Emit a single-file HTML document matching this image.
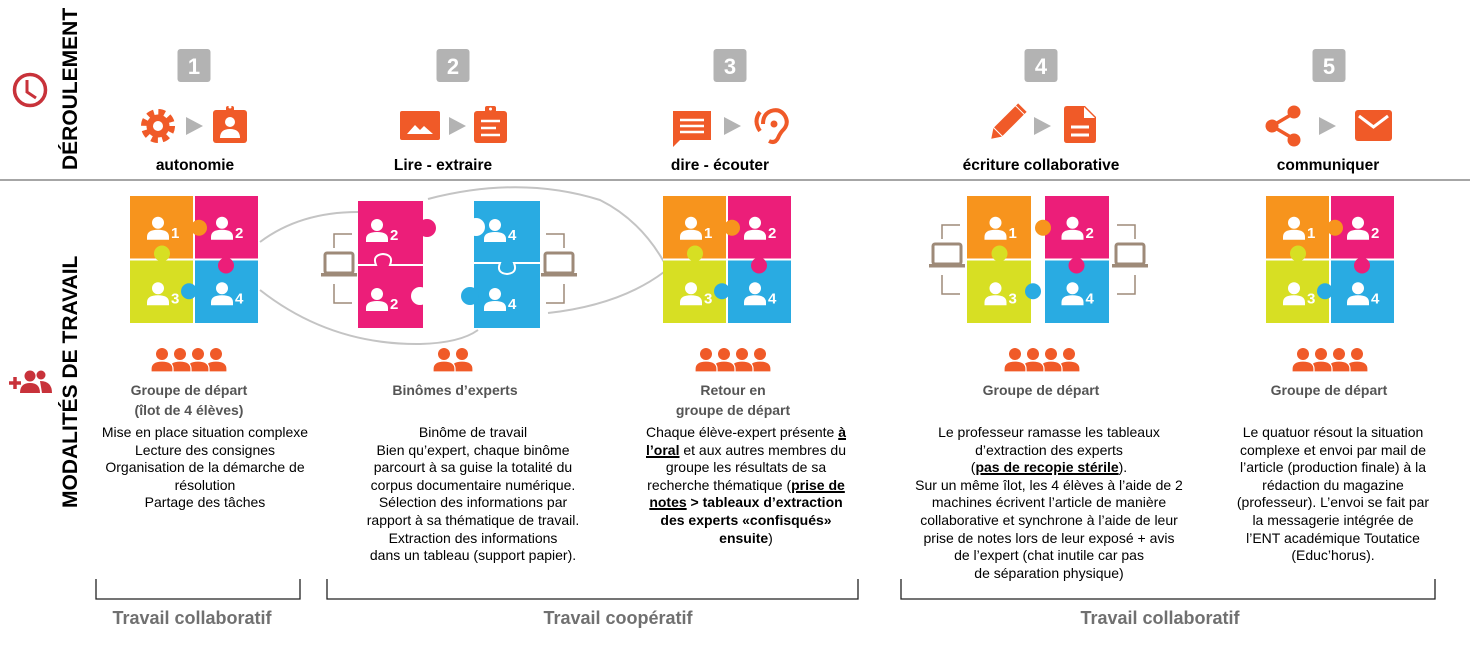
<!DOCTYPE html>
<html><head><meta charset="utf-8">
<style>
html,body{margin:0;padding:0;background:#fff;}
body{width:1470px;height:647px;position:relative;overflow:hidden;font-family:"Liberation Sans",Arial,sans-serif;}
svg{position:absolute;left:0;top:0;}
.t{position:absolute;text-align:center;white-space:nowrap;}
.lab{font-weight:bold;font-size:15.5px;color:#000;top:157px;width:240px;}
.sub{font-weight:bold;font-size:14px;color:#555;line-height:20px;width:240px;}
.body{font-size:14px;line-height:17.6px;color:#000;width:300px;}
.body b u, .body u{text-decoration-thickness:1.5px;}
.foot{font-weight:bold;font-size:18px;color:#707070;top:608px;width:300px;}
.vert{position:absolute;font-weight:bold;font-size:21px;color:#000;transform:rotate(-90deg);transform-origin:center;white-space:nowrap;text-align:center;}
</style></head><body>
<svg id="g" width="1470" height="647" viewBox="0 0 1470 647"></svg>

<div class="vert" style="left:-9px;top:77px;width:160px;height:26px;line-height:26px;">DÉROULEMENT</div>
<div class="vert" style="left:-54px;top:370px;width:250px;height:26px;line-height:26px;">MODALITÉS DE TRAVAIL</div>

<div class="t lab" style="left:75px;">autonomie</div>
<div class="t lab" style="left:323px;">Lire - extraire</div>
<div class="t lab" style="left:600px;">dire - écouter</div>
<div class="t lab" style="left:921px;">écriture collaborative</div>
<div class="t lab" style="left:1208px;">communiquer</div>

<div class="t sub" style="left:69px;top:380px;">Groupe de départ<br>(îlot de 4 élèves)</div>
<div class="t sub" style="left:335px;top:380px;">Binômes d’experts</div>
<div class="t sub" style="left:613px;top:380px;">Retour en<br>groupe de départ</div>
<div class="t sub" style="left:921px;top:380px;">Groupe de départ</div>
<div class="t sub" style="left:1209px;top:380px;">Groupe de départ</div>

<div class="t body" style="left:55px;top:424px;">Mise en place situation complexe<br>Lecture des consignes<br>Organisation de la démarche de<br>résolution<br>Partage des tâches</div>
<div class="t body" style="left:323px;top:424px;">Binôme de travail<br>Bien qu’expert, chaque binôme<br>parcourt à sa guise la totalité du<br>corpus documentaire numérique.<br>Sélection des informations par<br>rapport à sa thématique de travail.<br>Extraction des informations<br>dans un tableau (support papier).</div>
<div class="t body" style="left:596px;top:424px;">Chaque élève-expert présente <b><u>à</u></b><br><b><u>l’oral</u></b> et aux autres membres du<br>groupe les résultats de sa<br>recherche thématique (<b><u>prise de</u></b><br><b><u>notes</u> &gt; tableaux d’extraction</b><br><b>des experts «confisqués»</b><br><b>ensuite</b>)</div>
<div class="t body" style="left:899px;top:424px;">Le professeur ramasse les tableaux<br>d’extraction des experts<br>(<b><u>pas de recopie stérile</u></b>).<br>Sur un même îlot, les 4 élèves à l’aide de 2<br>machines écrivent l’article de manière<br>collaborative et synchrone à l’aide de leur<br>prise de notes lors de leur exposé + avis<br>de l’expert (chat inutile car pas<br>de séparation physique)</div>
<div class="t body" style="left:1183px;top:424px;">Le quatuor résout la situation<br>complexe et envoi par mail de<br>l’article (production finale) à la<br>rédaction du magazine<br>(professeur). L’envoi se fait par<br>la messagerie intégrée de<br>l’ENT académique Toutatice<br>(Educ’horus).</div>

<div class="t foot" style="left:42px;">Travail collaboratif</div>
<div class="t foot" style="left:468px;">Travail coopératif</div>
<div class="t foot" style="left:1010px;">Travail collaboratif</div>

<script>
var s='';
var OR='#f05a28',GR='#b3b3b3',BR='#9e8a78',LG='#c4c4c4';
var O='#f7941d',P='#ec1e79',Y='#d7df23',B='#29abe2';
s+='<line x1="0" y1="180" x2="1470" y2="180" stroke="#888" stroke-width="1.5"/>';
s+='<circle cx="30" cy="90" r="15.5" fill="none" stroke="#c8323a" stroke-width="3.5"/><path d="M27 80 V92 L36 98" fill="none" stroke="#c8323a" stroke-width="3"/>';
s+='<path d="M9 383h12M15 377v12" stroke="#c8323a" stroke-width="3.5"/><circle cx="30" cy="376" r="5.5" fill="#c8323a"/><path d="M20 393q0-10 10-10q10 0 10 10z" fill="#c8323a"/><circle cx="41" cy="375" r="4.5" fill="#c8323a"/><path d="M40 381q12 0 12 12h-10z" fill="#c8323a"/>';
[[194,'1'],[453,'2'],[730,'3'],[1041,'4'],[1329,'5']].forEach(function(a){
 s+='<rect x="'+(a[0]-16.5)+'" y="49" width="33" height="33" rx="3" fill="'+GR+'"/><text x="'+a[0]+'" y="74" font-family="Liberation Sans" font-weight="bold" font-size="22" fill="#fff" text-anchor="middle">'+a[1]+'</text>';
});
function tri(x){return '<path d="M'+x+' 117 L'+(x+17)+' 126 L'+x+' 135z" fill="'+GR+'"/>';}
[186,449,724,1034,1319].forEach(function(x){s+=tri(x);});
s+='<circle cx="158" cy="126" r="13" fill="none" stroke="'+OR+'" stroke-width="8" stroke-dasharray="6 4.2"/><circle cx="158" cy="126" r="11.5" fill="'+OR+'"/><circle cx="158" cy="126" r="5" fill="#fff"/>';
s+='<rect x="213" y="110" width="34" height="33" rx="3" fill="'+OR+'"/><rect x="226" y="106" width="8" height="6" rx="2" fill="'+OR+'"/><circle cx="230" cy="107" r="1.5" fill="#fff"/><circle cx="230" cy="122" r="5" fill="#fff"/><path d="M220 138q0-9 10-9q10 0 10 9z" fill="#fff"/>';
s+='<rect x="400" y="111" width="40" height="29" rx="2" fill="'+OR+'"/><path d="M407 134l8-9 5 5 4-4 9 8z" fill="#fff"/>';
s+='<rect x="474" y="111" width="33" height="32" rx="3" fill="'+OR+'"/><rect x="485" y="106" width="11" height="7" rx="2" fill="'+OR+'"/><circle cx="490.5" cy="109" r="1.5" fill="#fff"/><path d="M481 121h19M481 128h15M481 135h19" stroke="#fff" stroke-width="2.5"/>';
s+='<path d="M673 111h38v29h-31l-7 7z" fill="'+OR+'"/><path d="M680 120h24M680 126h24M680 132h24" stroke="#fff" stroke-width="2.5"/>';
s+='<path d="M769 141q6 3 9-3q2-5 6-9q5-6 1-13q-5-8-14-5q-8 3-8 13" fill="none" stroke="'+OR+'" stroke-width="4"/><circle cx="774" cy="124" r="3.5" fill="'+OR+'"/><path d="M760 112q-7 9 0 19" fill="none" stroke="'+OR+'" stroke-width="4"/>';
s+='<g transform="rotate(45 1004 126)"><rect x="998" y="104" width="12" height="30" fill="'+OR+'"/><rect x="998" y="100" width="12" height="3" fill="'+OR+'"/><path d="M998 135h12l-6 9z" fill="'+OR+'"/></g>';
s+='<path d="M1064 109q0-3 3-3h18l11 11v23q0 3-3 3h-26q-3 0-3-3z" fill="'+OR+'"/><path d="M1084 107v11h11z" fill="#fff"/><path d="M1071 127h18M1071 135h18" stroke="#fff" stroke-width="3"/>';
s+='<path d="M1294 113L1272 126L1294 139" fill="none" stroke="'+OR+'" stroke-width="3.5"/><circle cx="1294" cy="112" r="6.5" fill="'+OR+'"/><circle cx="1272" cy="126" r="6.5" fill="'+OR+'"/><circle cx="1294" cy="140" r="6.5" fill="'+OR+'"/>';
s+='<rect x="1355" y="110" width="37" height="31" rx="3" fill="'+OR+'"/><path d="M1359 116l14.5 11 14.5-11" fill="none" stroke="#fff" stroke-width="3"/>';

function person(cx,cy,n,col){
 col=col||'#fff';
 var r='<circle cx="'+cx+'" cy="'+(cy-6)+'" r="6" fill="'+col+'"/><path d="M'+(cx-11)+' '+(cy+11)+'v-3q0-7 11-7q11 0 11 7v3z" fill="'+col+'"/>';
 if(n) r+='<text x="'+(cx+13)+'" y="'+(cy+9)+'" font-family="Liberation Sans" font-weight="bold" font-size="15" fill="#fff">'+n+'</text>';
 return r;
}
function puzzle(x,y,w,h,gap){
 gap=gap||0;var hw=(w-gap)/2,hh=h/2,r='';
 var xr=x+hw+gap;
 r+='<rect x="'+x+'" y="'+y+'" width="'+hw+'" height="'+hh+'" fill="'+O+'"/>';
 r+='<rect x="'+xr+'" y="'+y+'" width="'+hw+'" height="'+hh+'" fill="'+P+'"/>';
 r+='<rect x="'+x+'" y="'+(y+hh)+'" width="'+hw+'" height="'+hh+'" fill="'+Y+'"/>';
 r+='<rect x="'+xr+'" y="'+(y+hh)+'" width="'+hw+'" height="'+hh+'" fill="'+B+'"/>';
 r+='<line x1="'+x+'" y1="'+(y+hh)+'" x2="'+(x+w)+'" y2="'+(y+hh)+'" stroke="#fff" stroke-width="2"/>';
 r+='<line x1="'+(x+hw+gap/2)+'" y1="'+y+'" x2="'+(x+hw+gap/2)+'" y2="'+(y+h)+'" stroke="#fff" stroke-width="'+(2+gap)+'"/>';
 r+='<circle cx="'+(x+hw+5+gap/2)+'" cy="'+(y+hh/2)+'" r="8" fill="'+O+'"/>';
 r+='<circle cx="'+(xr+hw/2)+'" cy="'+(y+hh+6)+'" r="8" fill="'+P+'"/>';
 r+='<circle cx="'+(x+hw/2)+'" cy="'+(y+hh-6)+'" r="8" fill="'+Y+'"/>';
 r+='<circle cx="'+(x+hw-5+gap/2)+'" cy="'+(y+hh+hh/2)+'" r="8" fill="'+B+'"/>';
 r+=person(x+hw/2-4,y+hh/2+1,'1')+person(xr+hw/2-4,y+hh/2+1,'2')+person(x+hw/2-4,y+hh+hh/2+3,'3')+person(xr+hw/2-4,y+hh+hh/2+3,'4');
 return r;
}
s+='<g fill="none" stroke="'+LG+'" stroke-width="2">';
s+='<path d="M260 242 Q300 212 358 212"/>';
s+='<path d="M260 290 Q330 345 420 344 Q460 343 478 330"/>';
s+='<path d="M428 199 Q520 175 600 200 Q640 220 664 262"/>';
s+='<path d="M548 313 Q620 305 664 272"/>';
s+='</g>';
s+=puzzle(130,196,128,127);
s+=puzzle(663,196,128,127);
s+=puzzle(967,196,142,127,12);
s+=puzzle(1266,196,128,127);
s+='<rect x="358" y="201" width="65" height="127" fill="'+P+'"/><circle cx="427" cy="228" r="9" fill="'+P+'"/><circle cx="420" cy="296" r="9" fill="#fff"/>';
s+='<path d="M358 265 H376 Q372 255 383 254 Q394 255 390 265 H423" fill="none" stroke="#fff" stroke-width="2"/>';
s+=person(377,231,'2')+person(377,300,'2');
s+='<rect x="474" y="201" width="66" height="127" fill="'+B+'"/><circle cx="476" cy="227" r="9" fill="#fff"/><circle cx="470" cy="296" r="9" fill="'+B+'"/>';
s+='<path d="M474 263 H500 Q496 273 507 274 Q518 273 514 263 H540" fill="none" stroke="#fff" stroke-width="2"/>';
s+=person(495,231,'4')+person(495,300,'4');
function laptop(cx,cy,side){
 var r='<rect x="'+(cx-14)+'" y="'+(cy-13)+'" width="28" height="20" rx="2" fill="none" stroke="'+BR+'" stroke-width="3"/><rect x="'+(cx-18)+'" y="'+(cy+7)+'" width="36" height="3.5" fill="'+BR+'"/>';
 var vx=side<0?cx-5:cx+5, hx=side<0?cx+13:cx-13;
 r+='<path d="M'+hx+' '+(cy-32)+' H'+vx+' V'+(cy-18)+'M'+hx+' '+(cy+37)+' H'+vx+' V'+(cy+18)+'" fill="none" stroke="'+BR+'" stroke-width="1.5"/>';
 return r;
}
s+=laptop(339,266,-1);
s+=laptop(559,266,1);
s+=laptop(947,257,-1);
s+=laptop(1130,257,1);
function grp(cx,n){
 var r='',w=18,start=cx-(n-1)*w/2;
 for(var i=n-1;i>=0;i--){var x=start+i*w;
  r+='<circle cx="'+x+'" cy="'+354+'" r="6" fill="'+OR+'"/><path d="M'+(x-11)+' 372 v-3 q0-8 11-8 q11 0 11 8 v3z" fill="'+OR+'" stroke="#fff" stroke-width="1.2"/>';}
 return r;
}
s+=grp(189,4)+grp(453,2)+grp(733,4)+grp(1042,4)+grp(1330,4);
s+='<g fill="none" stroke="#222" stroke-width="1.3"><path d="M96 579 V599 H300 V579"/><path d="M327 579 V599 H858 V579"/><path d="M901 579 V599 H1435 V579"/></g>';
document.getElementById('g').innerHTML=s;
</script>
</body></html>
